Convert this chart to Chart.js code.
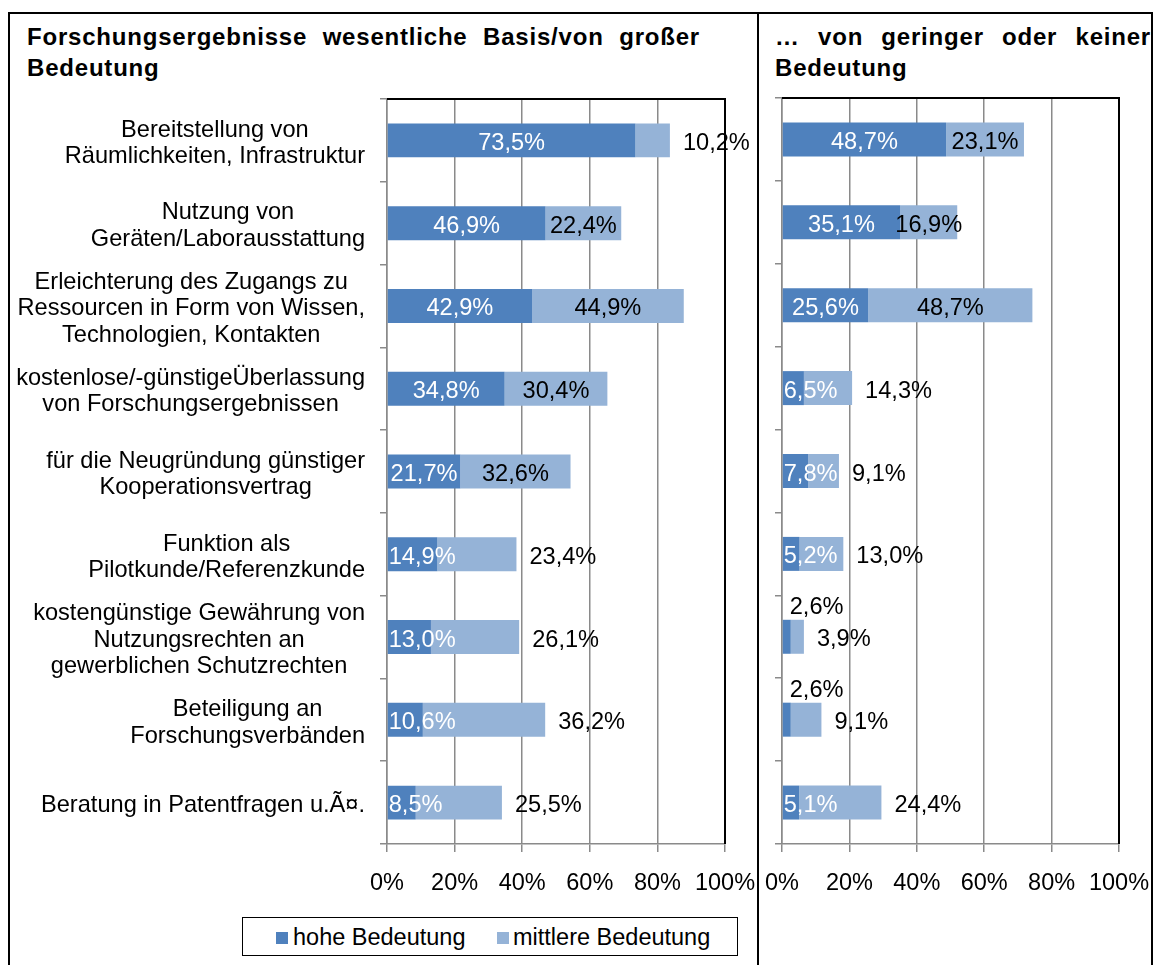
<!DOCTYPE html>
<html>
<head>
<meta charset="utf-8">
<script src="https://cdn.jsdelivr.net/npm/chart.js@4.4.1/dist/chart.umd.min.js"></script>
<style>
  body { margin: 0; background: #fff; font-family: "Liberation Sans", Arial, sans-serif; }
  #page { position: relative; width: 1157px; height: 965px; overflow: hidden; background: #fff; }
  .panel { position: absolute; top: 12px; height: 1000px; border: 2px solid #000; box-sizing: border-box; }
  .title { position: absolute; top: 21px; font-weight: bold; font-size: 24px; line-height: 31px;
           letter-spacing: 0.8px; text-align: justify; color: #000; }
  .chartbox { position: absolute; top: 90px; }
  #legend { position: absolute; left: 242px; top: 917px; width: 496px; height: 39px;
            border: 1.5px solid #000; box-sizing: border-box; font-size: 23.5px; color: #000; }
  #legend span.sw { position: absolute; top: 14px; width: 12px; height: 12px; }
  #legend span.tx { position: absolute; top: 6px; white-space: nowrap; }
</style>
</head>
<body>
<div id="page">
  <div class="panel" style="left:8px;width:751px;"></div>
  <div class="panel" style="left:757px;width:396px;"></div>

  <div class="title" style="left:27px;width:673px;">Forschungsergebnisse wesentliche Basis/von großer Bedeutung</div>
  <div class="title" style="left:775px;width:376px;">… von geringer oder keiner Bedeutung</div>

  <div class="chartbox" style="left:10px;"><canvas id="leftChart" width="745" height="820"></canvas></div>
  <div class="chartbox" style="left:759px;"><canvas id="rightChart" width="392" height="820"></canvas></div>

  <div id="legend">
    <span class="sw" id="sw1" style="left:33px;"></span><span class="tx" style="left:50px;">hohe Bedeutung</span>
    <span class="sw" id="sw2" style="left:254px;"></span><span class="tx" style="left:270px;">mittlere Bedeutung</span>
  </div>
</div>

<script>
const categories = [
  ['Bereitstellung von', 'Räumlichkeiten, Infrastruktur'],
  ['Nutzung von', 'Geräten/Laborausstattung'],
  ['Erleichterung des Zugangs zu', 'Ressourcen in Form von Wissen,', 'Technologien, Kontakten'],
  ['kostenlose/-günstigeÜberlassung', 'von Forschungsergebnissen'],
  ['für die Neugründung günstiger', 'Kooperationsvertrag'],
  ['Funktion als', 'Pilotkunde/Referenzkunde'],
  ['kostengünstige Gewährung von', 'Nutzungsrechten an', 'gewerblichen Schutzrechten'],
  ['Beteiligung an', 'Forschungsverbänden'],
  ['Beratung in Patentfragen u.Ã¤.']
];
const seriesNames = ['hohe Bedeutung', 'mittlere Bedeutung'];

// left panel: wesentliche Basis / von großer Bedeutung
const leftHohe     = [73.5, 46.9, 42.9, 34.8, 21.7, 14.9, 13.0, 10.6, 8.5];
const leftMittlere = [10.2, 22.4, 44.9, 30.4, 32.6, 23.4, 26.1, 36.2, 25.5];
// right panel: von geringer oder keiner Bedeutung
const rightHohe     = [48.7, 35.1, 25.6, 6.5, 7.8, 5.2, 2.6, 2.6, 5.1];
const rightMittlere = [23.1, 16.9, 48.7, 14.3, 9.1, 13.0, 3.9, 9.1, 24.4];

const xTicks = [0, 20, 40, 60, 80, 100];

// where the light-bar value label sits (inside the bar or after it)
const leftMittlereInside  = [false, true, true, true, true, false, false, false, false];
const rightMittlereInside = [true, true, true, false, false, false, false, false, false];

const DARK = '#4F81BD';
const LIGHT = '#95B3D7';
const GRID = '#8a8a8a';
const FONT = '"Liberation Sans", Arial, sans-serif';
const LABEL_FONT = '23.6px ' + FONT;

document.getElementById('sw1').style.background = DARK;
document.getElementById('sw2').style.background = LIGHT;

Chart.defaults.font.family = FONT;
Chart.defaults.font.size = 23.5;
Chart.defaults.color = '#000';

function fmt(v) {
  return v.toFixed(1).replace('.', ',') + '%';
}

const frame = {
  id: 'frame',
  afterDatasetsDraw(chart) {
    const { ctx, chartArea: a } = chart;
    ctx.save();
    ctx.strokeStyle = '#000';
    ctx.lineWidth = 2;
    ctx.beginPath();
    ctx.moveTo(a.left, a.top);
    ctx.lineTo(a.right, a.top);
    ctx.lineTo(a.right, a.bottom);
    ctx.stroke();
    ctx.restore();
  }
};

const barLabels = {
  id: 'barLabels',
  afterDraw(chart, args, opts) {
    const ctx = chart.ctx;
    ctx.save();
    ctx.font = LABEL_FONT;
    ctx.textBaseline = 'middle';
    const ds = chart.data.datasets;
    chart.getDatasetMeta(0).data.forEach((bar, i) => {
      const p = bar.getProps(['x', 'y', 'base'], true);
      const txt = fmt(ds[0].data[i]);
      const w = ctx.measureText(txt).width;
      if (p.x - p.base < 12) {
        ctx.fillStyle = '#000';
        ctx.textAlign = 'left';
        ctx.fillText(txt, p.base + 7, p.y - 29);
      } else {
        ctx.fillStyle = '#fff';
        ctx.textAlign = 'center';
        ctx.fillText(txt, Math.max((p.x + p.base) / 2, p.base + w / 2 + 1), p.y + 3);
      }
    });
    chart.getDatasetMeta(1).data.forEach((bar, i) => {
      const p = bar.getProps(['x', 'y', 'base'], true);
      const txt = fmt(ds[1].data[i]);
      ctx.fillStyle = '#000';
      if (opts.inside[i]) {
        ctx.textAlign = 'center';
        ctx.fillText(txt, (p.x + p.base) / 2, p.y + 3);
      } else {
        ctx.textAlign = 'left';
        ctx.fillText(txt, p.x + 13, p.y + 3);
      }
    });
    ctx.restore();
  }
};

const categoryLabels = {
  id: 'categoryLabels',
  afterDraw(chart, args, opts) {
    if (!opts.show) return;
    const ctx = chart.ctx;
    const yScale = chart.scales.y;
    const rightEdge = chart.chartArea.left - 22;
    ctx.save();
    ctx.font = LABEL_FONT;
    ctx.fillStyle = '#000';
    ctx.textAlign = 'center';
    ctx.textBaseline = 'middle';
    chart.data.labels.forEach((lines, i) => {
      const cy = yScale.getPixelForValue(i) + 3;
      const bw = Math.max(...lines.map(l => ctx.measureText(l).width));
      const cx = rightEdge - bw / 2;
      lines.forEach((l, k) => {
        ctx.fillText(l, cx, cy + (k - (lines.length - 1) / 2) * 26.5);
      });
    });
    ctx.restore();
  }
};

function noOverhang(s) {
  s.paddingLeft = 0;
  s.paddingRight = 0;
  s.paddingTop = 0;
  s.paddingBottom = 0;
}

function makeChart(id, hohe, mittlere, inside, showLabels, yWidth, pad) {
  return new Chart(document.getElementById(id), {
    type: 'bar',
    data: {
      labels: categories,
      datasets: [
        { label: seriesNames[0], data: hohe, backgroundColor: DARK },
        { label: seriesNames[1], data: mittlere, backgroundColor: LIGHT }
      ]
    },
    options: {
      indexAxis: 'y',
      responsive: false,
      animation: false,
      barPercentage: 0.41,
      categoryPercentage: 1,
      layout: { padding: pad },
      scales: {
        x: {
          stacked: true,
          min: 0,
          max: 100,
          afterBuildTicks: s => { s.ticks = xTicks.map(v => ({ value: v })); },
          ticks: { callback: v => v + '%', padding: 17, maxRotation: 0, autoSkip: false },
          grid: { color: GRID, lineWidth: 1.5, tickLength: 8 },
          border: { color: GRID, width: 1.5 },
          afterFit: s => { s.height = 66; noOverhang(s); }
        },
        y: {
          stacked: true,
          ticks: { display: false },
          grid: { drawOnChartArea: false, offset: true, tickLength: 7, color: GRID, lineWidth: 1.5 },
          border: { color: GRID, width: 1.5 },
          afterFit: s => { s.width = yWidth; noOverhang(s); }
        }
      },
      plugins: {
        legend: { display: false },
        tooltip: { enabled: false },
        barLabels: { inside: inside },
        categoryLabels: { show: showLabels }
      }
    },
    plugins: [frame, barLabels, categoryLabels]
  });
}

makeChart('leftChart', leftHohe, leftMittlere, leftMittlereInside, true, 377,
  { left: 0, right: 30, top: 9, bottom: 0 });
makeChart('rightChart', rightHohe, rightMittlere, rightMittlereInside, false, 23,
  { left: 0, right: 32, top: 8, bottom: 0 });
</script>
</body>
</html>
